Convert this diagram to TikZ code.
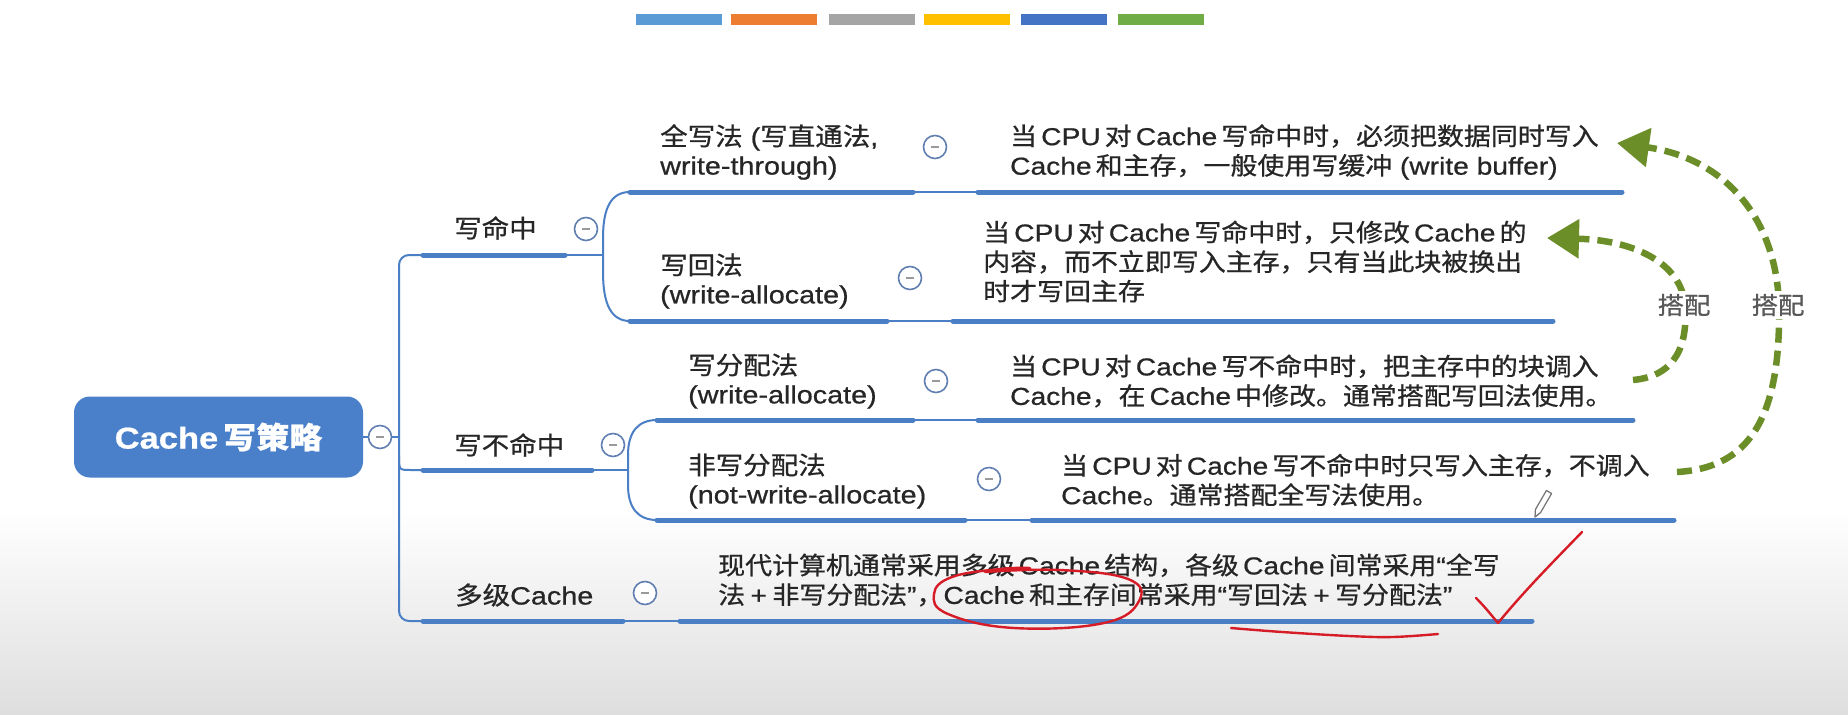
\documentclass[tikz,border=0pt]{standalone}
\usepackage{fontspec}
\setmainfont{Noto Sans CJK SC}[FakeStretch=1.1,FakeBold=0.7]
\newfontfamily\lat{Liberation Sans}[FakeStretch=1.15,FakeBold=0.7]
\usetikzlibrary{arrows.meta}
\newcommand\EN[1]{{\lat #1}}
\newcommand\PLUS{\hspace{0.22em}{\lat +}\hspace{0.22em}}
\definecolor{lineblue}{RGB}{74,126,197}
\definecolor{rootblue}{RGB}{74,127,201}
\definecolor{txt}{RGB}{38,38,38}
\definecolor{grn}{RGB}{108,142,40}
\definecolor{annot}{RGB}{214,28,38}
\definecolor{circblue}{RGB}{96,126,176}
\definecolor{bgray}{RGB}{222,222,222}
\definecolor{barA}{RGB}{91,155,213}
\definecolor{barB}{RGB}{237,125,49}
\definecolor{barC}{RGB}{165,165,165}
\definecolor{barD}{RGB}{255,192,0}
\definecolor{barE}{RGB}{68,114,196}
\definecolor{barF}{RGB}{112,173,71}
\begin{document}
\begin{tikzpicture}[x=1pt,y=-1pt,
  thickline/.style={lineblue,line width=5pt,line cap=round},
  thinline/.style={lineblue,line width=2pt},
  lbl/.style={inner sep=0pt,anchor=west,align=left,text=txt,font=\fontsize{25}{29}\selectfont},
  desc/.style={inner sep=0pt,anchor=west,align=left,text=txt,font=\fontsize{24.5}{29.5}\selectfont},
  fold/.style={circle,draw=circblue,line width=1.6pt,fill=white,minimum size=23pt,inner sep=0pt,
    path picture={\draw[black!40,line width=1.4pt] ([xshift=-4pt]path picture bounding box.center) -- ([xshift=4pt]path picture bounding box.center);}},
  pairarrow/.style={grn,line width=6.5pt,dash pattern=on 15pt off 8pt,-{Triangle[length=32pt,width=38pt]}},
  pairlbl/.style={fill=white,inner sep=3pt,text=black!65,font=\fontsize{24}{26}\selectfont},
  redpen/.style={annot,line width=2.4pt,line cap=round,line join=round},
  colorbar/.style={minimum width=86pt,minimum height=11pt,inner sep=0pt}]
\useasboundingbox (0,0) rectangle (1848,715);
\shade[top color=white,bottom color=bgray] (0,510) rectangle (1848,715);
\fill[white] (0,0) rectangle (1848,510);

% colour bars
\node[colorbar,fill=barA] (ba) at (679,19) {};
\node[colorbar,fill=barB] (bb) at (774,19) {};
\node[colorbar,fill=barC] (bc) at (872,19) {};
\node[colorbar,fill=barD] (bd) at (967,19) {};
\node[colorbar,fill=barE] (be) at (1064,19) {};
\node[colorbar,fill=barF] (bf) at (1161,19) {};

% root
\node[fill=rootblue,rounded corners=16pt,minimum width=289pt,minimum height=81pt,inner sep=0pt,
  text=white,font=\fontsize{30}{32}\selectfont\bfseries] (root) at (218.5,437) {\EN{Cache}\,写策略};
\node[fold] (f0) at (380,437) {};
\draw[thinline] (root.east) -- (f0.west);
\coordinate (trunkmid) at (399,437);
\draw[thinline] (f0.east) -- (trunkmid);

% level-1 coordinates
\coordinate (a1) at (423,255); \coordinate (a2) at (565,255);
\coordinate (b1) at (423,470); \coordinate (b2) at (592,470);
\coordinate (c1) at (423,621); \coordinate (c2) at (623,621);
\draw[thinline,rounded corners=10pt] (a1) -- (399,255) -- (399,621) -- (c1);
\draw[thinline] (399,456) .. controls (399,470) .. (411,470) -- (b1);
\draw[thickline] (a1) -- (a2);
\draw[thickline] (b1) -- (b2);
\draw[thickline] (c1) -- (c2);

\node[lbl] (hit) at (454,228) {写命中};
\node[fold] (f1) at (586,229) {};
\node[lbl] (miss) at (454,445) {写不命中};
\node[fold] (f2) at (613,445) {};
\node[lbl] (multi) at (455,595) {多级\EN{Cache}};
\node[fold] (f3) at (645,593) {};

% bracket for write hit
\coordinate (wt1) at (630,192); \coordinate (wt2) at (913,192);
\coordinate (wb1) at (630,321); \coordinate (wb2) at (887,321);
\draw[thinline] (a2) -- (603,255);
\draw[thinline] (wt1) .. controls (611,192) and (603,208) .. (603,238) -- (603,272) .. controls (603,304) and (611,321) .. (wb1);
\draw[thickline] (wt1) -- (wt2);
\draw[thickline] (wb1) -- (wb2);
\node[lbl] (wtlbl) at (660,152) {全写法\EN{ (}写直通法\EN{,}\\\EN{write-through)}};
\node[fold] (f4) at (935,147) {};
\node[lbl] (wblbl) at (660,281) {写回法\\\EN{(write-allocate)}};
\node[fold] (f5) at (910,278) {};

% bracket for write miss
\coordinate (wa1) at (657,420); \coordinate (wa2) at (913,420);
\coordinate (wn1) at (657,520); \coordinate (wn2) at (965,520);
\draw[thinline] (b2) -- (628,470);
\draw[thinline] (wa1) .. controls (638,420) and (628,432) .. (628,455) -- (628,485) .. controls (628,508) and (638,520) .. (wn1);
\draw[thickline] (wa1) -- (wa2);
\draw[thickline] (wn1) -- (wn2);
\node[lbl] (walbl) at (688,381) {写分配法\\\EN{(write-allocate)}};
\node[fold] (f6) at (936,381) {};
\node[lbl] (wnlbl) at (688,481) {非写分配法\\\EN{(not-write-allocate)}};
\node[fold] (f7) at (989,479) {};

% description underlines
\coordinate (d1a) at (978,192); \coordinate (d1b) at (1622,192);
\coordinate (d2a) at (953,321); \coordinate (d2b) at (1553,321);
\coordinate (d3a) at (978,420); \coordinate (d3b) at (1633,420);
\coordinate (d4a) at (1032,520); \coordinate (d4b) at (1674,520);
\coordinate (d5a) at (680,621); \coordinate (d5b) at (1532,621);
\draw[thinline] (wt2) -- (d1a);
\draw[thinline] (wb2) -- (d2a);
\draw[thinline] (wa2) -- (d3a);
\draw[thinline] (wn2) -- (d4a);
\draw[thinline] (c2) -- (d5a);
\draw[thickline] (d1a) -- (d1b);
\draw[thickline] (d2a) -- (d2b);
\draw[thickline] (d3a) -- (d3b);
\draw[thickline] (d4a) -- (d4b);
\draw[thickline] (d5a) -- (d5b);

% descriptions
\node[desc] (t1) at (1010,152) {当\,\EN{CPU}\,对\,\EN{Cache}\,写命中时，必须把数据同时写入\\\EN{Cache}\,和主存，一般使用写缓冲\EN{ (write buffer)}};
\node[desc] (t2) at (983,261.5) {当\,\EN{CPU}\,对\,\EN{Cache}\,写命中时，只修改\,\EN{Cache}\,的\\内容，而不立即写入主存，只有当此块被换出\\时才写回主存};
\node[desc] (t3) at (1010,381) {当\,\EN{CPU}\,对\,\EN{Cache}\,写不命中时，把主存中的块调入\\\EN{Cache}，在\,\EN{Cache}\,中修改。通常搭配写回法使用。};
\node[desc] (t4) at (1061,480) {当\,\EN{CPU}\,对\,\EN{Cache}\,写不命中时只写入主存，不调入\\\EN{Cache}。通常搭配全写法使用。};
\node[desc] (t5) at (718,580) {现代计算机通常采用多级\,\EN{Cache}\,结构，各级\,\EN{Cache}\,间常采用\EN{“}全写\\法\PLUS 非写分配法\EN{”}，\EN{Cache}\,和主存间常采用\EN{“}写回法\PLUS 写分配法\EN{”}};

% green pairing arrows
\coordinate (o1) at (1677,472); \coordinate (o2) at (1617,143);
\coordinate (i1) at (1633,380); \coordinate (i2) at (1547,238);
\draw[pairarrow] (o1) .. controls (1748,468) and (1781,420) .. (1779,305) .. controls (1776,215) and (1722,158) .. (o2);
\draw[pairarrow] (i1) .. controls (1676,376) and (1688,345) .. (1685,305) .. controls (1681,262) and (1632,240) .. (i2);
\node[pairlbl] (p1) at (1684,305) {搭配};
\node[pairlbl] (p2) at (1778,305) {搭配};

% red handwritten marks
\draw[redpen] plot[smooth,tension=0.7] coordinates {(985,572) (1060,570) (1128,579) (1139,601) (1104,623) (1014,628) (948,614) (934,594) (952,577) (1000,569) (1030,568)};
\draw[redpen] plot[smooth,tension=0.6] coordinates {(1231,628) (1282,632) (1349,636) (1393,637) (1438,634)};
\draw[redpen] (1476,598) .. controls (1486,608) and (1492,616) .. (1498,623) .. controls (1525,590) and (1555,560) .. (1582,532);

% pencil cursor
\draw[black!55,line width=1.2pt,line join=round,fill=white] (1535,517) -- (1535.4,509.5) -- (1546.4,490.5) -- (1551.6,493.5) -- (1540.6,512.5) -- cycle;
\end{tikzpicture}
\end{document}
